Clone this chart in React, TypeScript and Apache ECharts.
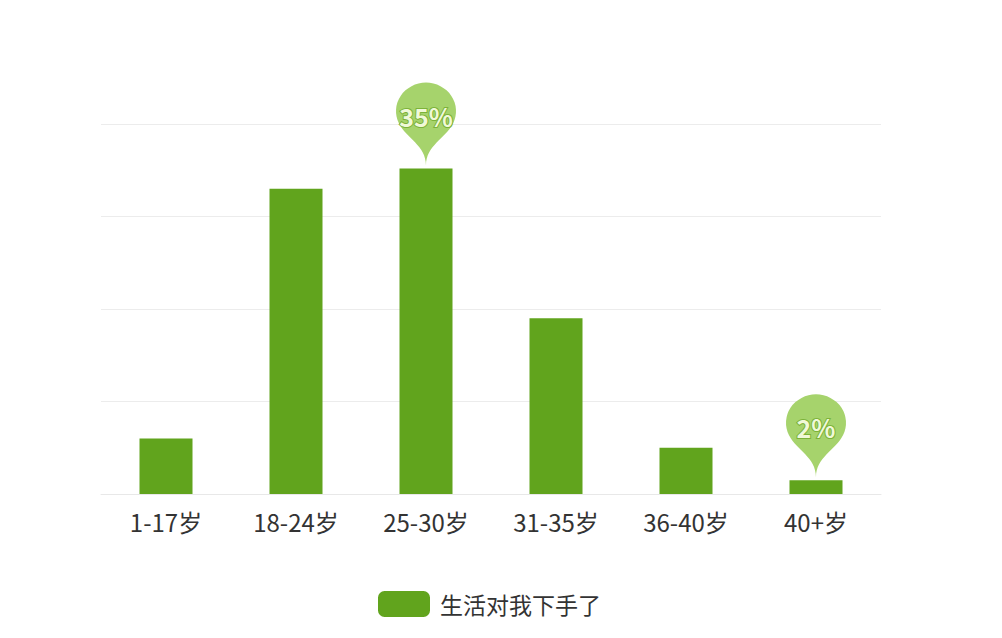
import React, { useEffect, useRef } from "react";
import * as echarts from "echarts";

const categories = ["1-17岁", "18-24岁", "25-30岁", "31-35岁", "36-40岁", "40+岁"];
const values = [6, 33, 35.2, 19, 5, 1.5];
const pinIndexes = [2, 5];
const pinLabels = ["35%", "2%"];
const seriesName = "生活对我下手了";

export default function App() {
  const ref = useRef<HTMLDivElement>(null);
  useEffect(() => {
    const chart = echarts.init(ref.current!, null, { renderer: "svg" });
    const font = "'Noto Sans CJK SC', 'Microsoft YaHei', sans-serif";
    chart.setOption({
      animation: false,
      backgroundColor: "#ffffff",
      grid: { left: 101, right: 121, top: 124, bottom: 144 },
      legend: {
        data: [seriesName],
        left: 373,
        top: 586,
        itemWidth: 52,
        itemHeight: 26,
        itemGap: 10,
        icon: "roundRect",
        textStyle: { fontSize: 23, color: "#333", fontFamily: font, padding: [0, 0, 0, 5] },
      },
      xAxis: {
        type: "category",
        data: categories,
        axisLine: { lineStyle: { color: "#e8e8e8" } },
        axisTick: { show: false },
        axisLabel: { fontSize: 24, color: "#333", margin: 15, fontFamily: font },
      },
      yAxis: {
        type: "value",
        min: 0,
        max: 40,
        interval: 10,
        axisLabel: { show: false },
        axisLine: { show: false },
        axisTick: { show: false },
        splitLine: { lineStyle: { color: "#ececec" } },
      },
      series: [
        {
          name: seriesName,
          type: "bar",
          data: values,
          barWidth: 53,
          itemStyle: { color: "#61a41d" },
          markPoint: {
            symbol: "pin",
            symbolSize: [100, 95],
            symbolOffset: [0, -3],
            itemStyle: { color: "#a6d36c" },
            label: {
              show: true,
              fontSize: 25,
              fontWeight: "bold",
              color: "#f0f9d8",
              textBorderColor: "#7cb23a",
              textBorderWidth: 2,
              fontFamily: font,
              offset: [0, 0],
            },
            data: pinIndexes.map((i, k) => ({
              coord: [categories[i], values[i]],
              value: pinLabels[k],
            })),
          },
        },
      ],
    });
    return () => chart.dispose();
  }, []);
  return (
    <div
      ref={ref}
      style={{ position: "fixed", left: 0, top: 0, width: 1002, height: 638 }}
    />
  );
}
